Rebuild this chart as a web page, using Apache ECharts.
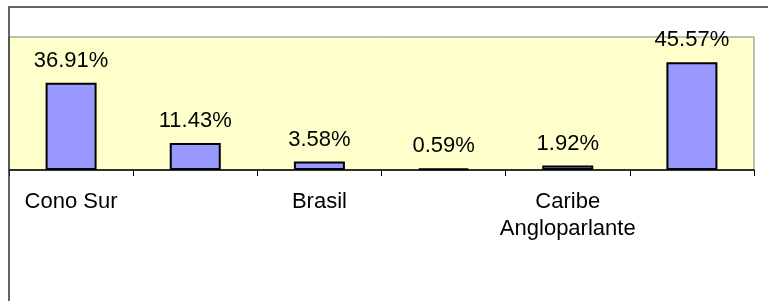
<!DOCTYPE html>
<html>
<head>
<meta charset="utf-8">
<script src="https://cdn.jsdelivr.net/npm/echarts@6/dist/echarts.min.js"></script>
<style>
	html, body { margin: 0; padding: 0; background: #fff; }
	#chart-div { width: 768px; height: 301px; }
</style>
</head>
<body>
<div id="chart-div"></div>
<script>
// categorías (las de posición par no se ven en el original)
var g_categories = [
	"Cono Sur",
	"Región Andina",
	"Brasil",
	"Centroamérica",
	"Caribe\nAngloparlante",
	"México"
];
// porcentajes por región
var g_values = [36.91, 11.43, 3.58, 0.59, 1.92, 45.57];

var g_font = "Liberation Sans, Arial, sans-serif";

var g_option = {
	animation: false,
	backgroundColor: "#fff",
	grid: {
		show: true,
		left: 9,
		right: 14,
		top: 37,
		bottom: 131,
		backgroundColor: "#FFFFCC",
		borderColor: "#808080",
		borderWidth: 1
	},
	// marco exterior del gráfico
	graphic: [
		{
			type: "rect",
			shape: { x: 9, y: 7, width: 900, height: 500 },
			style: { fill: "none", stroke: "#333", lineWidth: 1.5 },
			z: 100
		}
	],
	xAxis: {
		type: "category",
		data: g_categories,
		axisLine: { lineStyle: { color: "#000", width: 1.5 } },
		axisTick: {
			show: true,
			interval: 0,
			length: 6,
			lineStyle: { color: "#000" }
		},
		axisLabel: {
			interval: 1,
			margin: 18,
			fontFamily: g_font,
			fontSize: 22,
			lineHeight: 27,
			color: "#000"
		}
	},
	yAxis: {
		type: "value",
		show: false,
		min: 0,
		max: 56.3,
		splitLine: { show: false }
	},
	series: [
		{
			type: "bar",
			data: g_values,
			barWidth: 51,
			itemStyle: {
				color: "#9999FF",
				borderColor: "#000",
				borderWidth: 2
			},
			label: {
				show: true,
				position: "top",
				distance: 11,
				fontFamily: g_font,
				fontSize: 22,
				color: "#000",
				formatter: function (p) {
					return p.value.toFixed(2) + "%";
				}
			}
		}
	]
};

var g_chart = echarts.init(document.getElementById("chart-div"));
g_chart.setOption(g_option);
window.addEventListener("resize", g_chart.resize);
</script>
</body>
</html>
